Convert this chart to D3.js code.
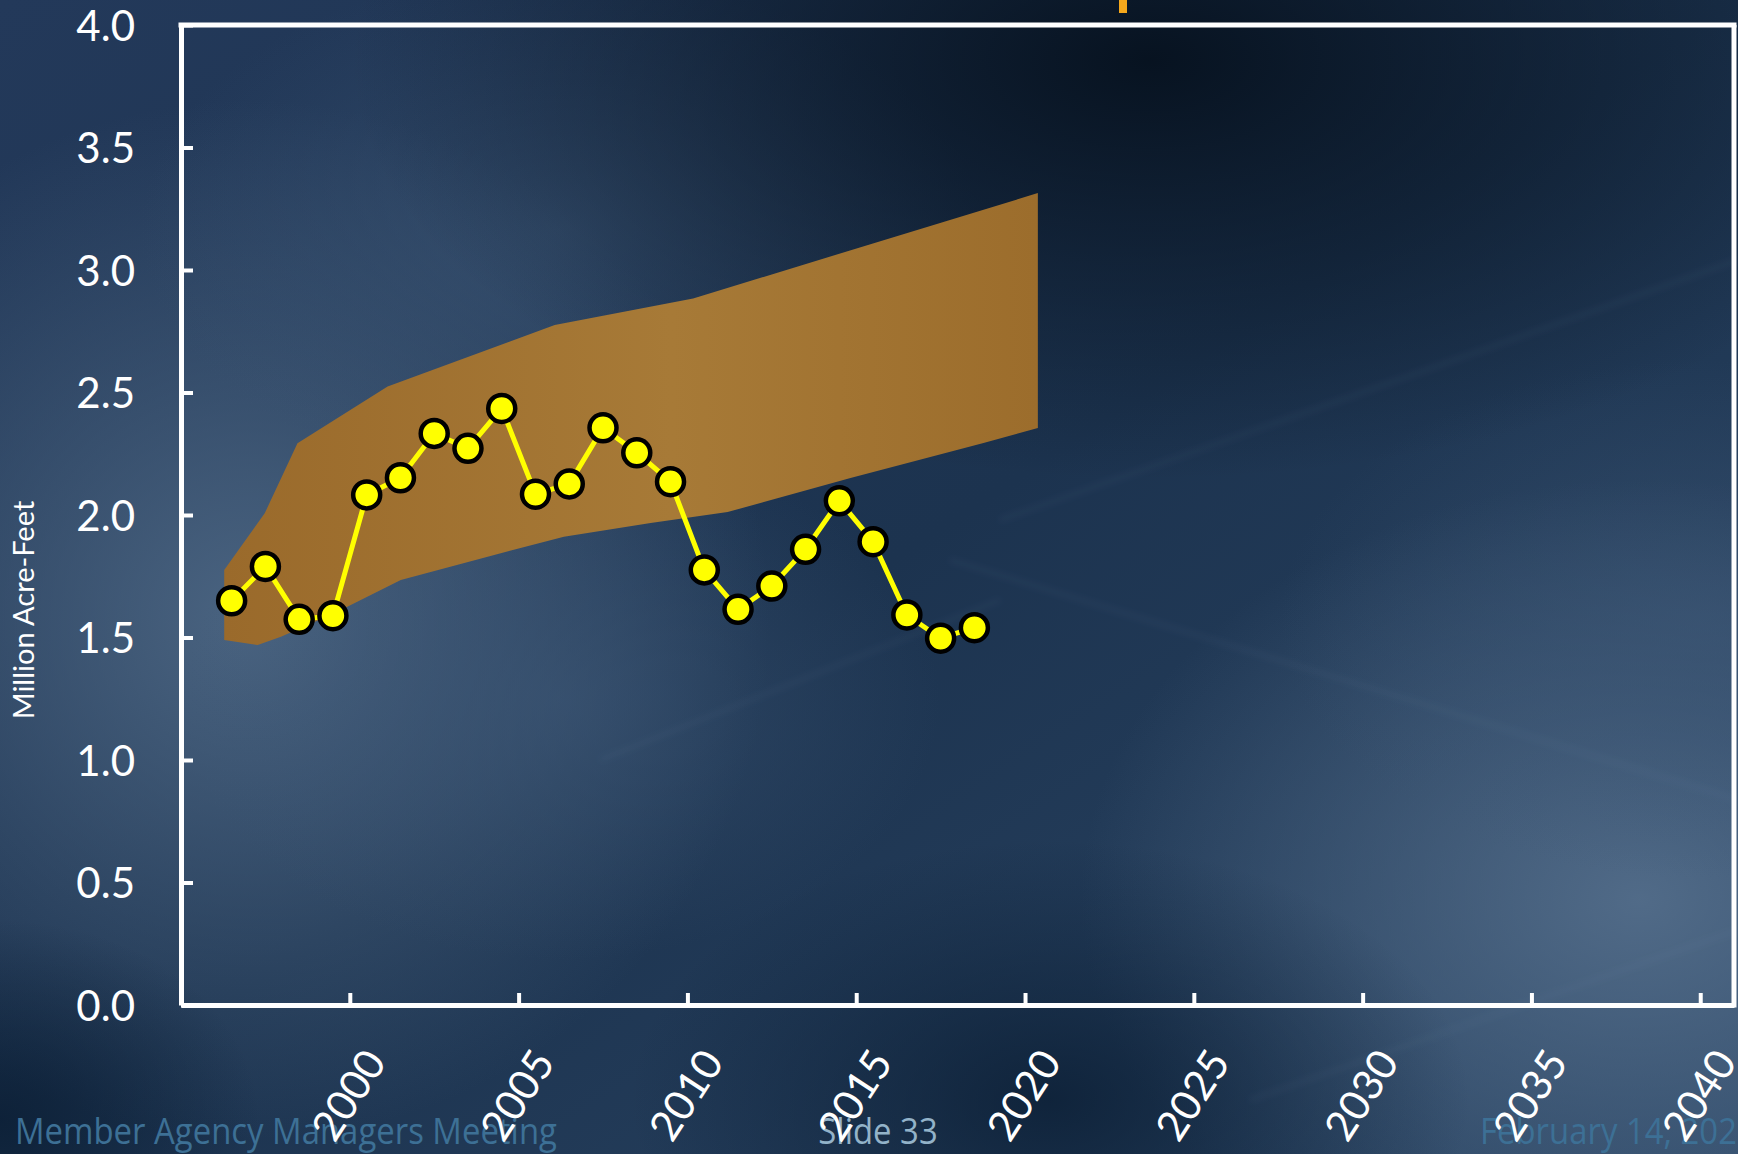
<!DOCTYPE html>
<html>
<head>
<meta charset="utf-8">
<script src="https://cdn.jsdelivr.net/npm/d3@7/dist/d3.min.js"></script>
<style>
  html, body { margin: 0; padding: 0; background: #1d3550; overflow: hidden; }
  svg { display: block; }
</style>
</head>
<body>
<svg id="chart" width="1738" height="1154"></svg>
<script>
// ---------------- data ----------------
const years = [1996,1997,1998,1999,2000,2001,2002,2003,2004,2005,2006,2007,2008,2009,2010,2011,2012,2013,2014,2015,2016,2017,2018];
const supply = [1.65,1.79,1.574,1.589,2.082,2.152,2.333,2.272,2.435,2.085,2.127,2.356,2.254,2.136,1.776,1.615,1.71,1.86,2.058,1.891,1.592,1.497,1.54];

const bandUpperYears = [1996.28,1997.48,1998.45,2001.12,2006.07,2010.17,2020.38];
const bandUpperVals  = [1.776, 2.007, 2.293, 2.524, 2.776, 2.884, 3.314];
const bandLowerYears = [1996.28,1997.27,1997.96,1999.54,2001.51,2004.47,2006.34,2008.91,2011.19,2014.83,2018.77,2020.38];
const bandLowerVals  = [1.490, 1.469, 1.503, 1.599, 1.735, 1.844, 1.911, 1.967, 2.012, 2.151, 2.294, 2.355];

const yTicks = [0,0.5,1,1.5,2,2.5,3,3.5,4];
const xTicks = [2000,2005,2010,2015,2020,2025,2030,2035,2040];
const yTitle = "Million Acre-Feet";
const footerLeft = "Member Agency Managers Meeting";
const footerCenter = "Slide 33";
const footerRight = "February 14, 2020";

// ---------------- setup ----------------
const W = 1738, H = 1154;
const svg = d3.select("#chart");
const defs = svg.append("defs");
const FONT = "Lato, 'Open Sans', sans-serif";

// background
function radial(id, stops) {
  const g = defs.append("radialGradient").attr("id", id);
  stops.forEach(s => g.append("stop").attr("offset", s[0]).attr("stop-color", s[1]).attr("stop-opacity", s[2]));
}
const lin = defs.append("linearGradient").attr("id","bgLin").attr("x1",0).attr("y1",0).attr("x2",1).attr("y2",1);
lin.append("stop").attr("offset",0).attr("stop-color","#23395a");
lin.append("stop").attr("offset",0.5).attr("stop-color","#1c334f");
lin.append("stop").attr("offset",1).attr("stop-color","#2c4766");
radial("lightL", [[0,"#4f6986",0.9],[1,"#4f6986",0]]);
radial("lightR", [[0,"#58728f",0.85],[1,"#58728f",0]]);
radial("darkT", [[0,"#06111e",0.95],[1,"#06111e",0]]);
radial("darkB", [[0,"#0a1d33",0.8],[1,"#0a1d33",0]]);
radial("midC", [[0,"#3d5776",0.6],[1,"#3d5776",0]]);
const blur = defs.append("filter").attr("id","blur").attr("x","-50%").attr("y","-50%").attr("width","200%").attr("height","200%");
blur.append("feGaussianBlur").attr("stdDeviation", 3);

const bg = svg.append("g");
bg.append("rect").attr("width", W).attr("height", H).attr("fill", "url(#bgLin)");
bg.append("ellipse").attr("cx", 250).attr("cy", 620).attr("rx", 520).attr("ry", 520).attr("fill","url(#lightL)");
bg.append("ellipse").attr("cx", 560).attr("cy", 230).attr("rx", 420).attr("ry", 260).attr("fill","url(#midC)");
bg.append("ellipse").attr("cx", 560).attr("cy", 700).attr("rx", 380).attr("ry", 260).attr("fill","url(#midC)");
bg.append("ellipse").attr("cx", 1640).attr("cy", 900).attr("rx", 560).attr("ry", 420).attr("fill","url(#lightR)");
bg.append("ellipse").attr("cx", 1700).attr("cy", 620).attr("rx", 420).attr("ry", 260).attr("fill","url(#midC)");
bg.append("ellipse").attr("cx", 1150).attr("cy", 60).attr("rx", 800).attr("ry", 420).attr("fill","url(#darkT)");
bg.append("ellipse").attr("cx", 1050).attr("cy", 1100).attr("rx", 420).attr("ry", 260).attr("fill","url(#darkB)");
bg.append("ellipse").attr("cx", 0).attr("cy", 1120).attr("rx", 260).attr("ry", 200).attr("fill","url(#darkB)");
// faint streaks
const streaks = [[950,560,1738,800],[1000,520,1738,260],[600,760,1000,600],[1250,1100,1738,930]];
bg.selectAll("line.streak").data(streaks).join("line")
  .attr("x1", d=>d[0]).attr("y1", d=>d[1]).attr("x2", d=>d[2]).attr("y2", d=>d[3])
  .attr("stroke","#8fa9c4").attr("stroke-opacity",0.07).attr("stroke-width",4).attr("filter","url(#blur)");

// footer (drawn beneath chart)
const foot = svg.append("g").attr("font-family", "'Open Sans', Lato, sans-serif").attr("font-size", 37);
const fl = foot.append("text").attr("x", 0).attr("y", 0).attr("fill", "#3d7095").text(footerLeft);
const flLen = fl.node().getComputedTextLength();
const fsx = 542 / flLen;
fl.attr("transform", `translate(15,1144) scale(${fsx},1)`);
foot.append("text").attr("x", 0).attr("y", 0).attr("fill", "#93b3c9").attr("text-anchor","middle")
  .attr("transform", `translate(878,1144) scale(${fsx},1)`).text(footerCenter);
foot.append("text").attr("x", 0).attr("y", 0).attr("fill", "#3d7095")
  .attr("transform", `translate(1480,1144) scale(${fsx},1)`).text(footerRight);

// orange marker at top
svg.append("rect").attr("x", 1119).attr("y", 0).attr("width", 8).attr("height", 13).attr("fill", "#f5a81c");

// ---------------- scales ----------------
const x = d3.scaleLinear().domain([1995, 2041]).range([181, 1734]);
const y = d3.scaleLinear().domain([0, 4]).range([1005, 25]);

// band
const bandPts = bandUpperYears.map((yr,i)=>[yr, bandUpperVals[i]])
  .concat(bandLowerYears.map((yr,i)=>[yr, bandLowerVals[i]]).reverse());
const bandGrad = defs.append("linearGradient").attr("id","bandG").attr("x1",0).attr("y1",0).attr("x2",1).attr("y2",0);
bandGrad.append("stop").attr("offset",0).attr("stop-color","#9a6a2b");
bandGrad.append("stop").attr("offset",0.55).attr("stop-color","#a77a37");
bandGrad.append("stop").attr("offset",1).attr("stop-color","#9c6d2c");
svg.append("path")
  .attr("d", d3.line().x(d=>x(d[0])).y(d=>y(d[1]))(bandPts) + "Z")
  .attr("fill", "url(#bandG)");

// axes
const yAxis = d3.axisLeft(y).tickValues(yTicks).tickFormat(d3.format(".1f")).tickSizeInner(-12).tickSizeOuter(0).tickPadding(46);
const gy = svg.append("g").attr("transform", `translate(${x.range()[0]},0)`).call(yAxis);
const xAxis = d3.axisBottom(x).tickValues(xTicks).tickFormat(d3.format("d")).tickSizeInner(-12).tickSizeOuter(0);
const gx = svg.append("g").attr("transform", `translate(0,${y.range()[0]})`).call(xAxis);

[gy, gx].forEach(g => {
  g.select(".domain").attr("stroke", "#fff").attr("stroke-width", 5);
  g.selectAll(".tick line").attr("stroke", "#fff").attr("stroke-width", 4);
});
gy.selectAll(".tick text").attr("fill","#fff").attr("font-family", FONT).attr("font-size", 42).attr("dy","0.36em");
gx.selectAll(".tick text").attr("fill","#fff").attr("font-family", FONT).attr("font-size", 42)
  .attr("y", null).attr("dy", "0.36em").attr("text-anchor","middle")
  .attr("transform", "translate(-2,90) rotate(-57)");

// frame top & right
svg.append("line").attr("x1", x.range()[0]-2.5).attr("x2", x.range()[1]+2.5).attr("y1", y.range()[1]).attr("y2", y.range()[1])
  .attr("stroke","#fff").attr("stroke-width",5);
svg.append("line").attr("x1", x.range()[1]).attr("x2", x.range()[1]).attr("y1", y.range()[1]).attr("y2", y.range()[0]+2.5)
  .attr("stroke","#fff").attr("stroke-width",5);

// y title
svg.append("text").attr("transform","translate(34,610) rotate(-90)").attr("text-anchor","middle")
  .attr("font-family", FONT).attr("font-size", 29).attr("fill","#fff").text(yTitle);

// series
const pts = years.map((yr,i)=>({x: yr + 0.5, v: supply[i]}));
svg.append("path").attr("d", d3.line().x(d=>x(d.x)).y(d=>y(d.v))(pts))
  .attr("fill","none").attr("stroke","#ffff00").attr("stroke-width",5).attr("stroke-linejoin","round");
svg.selectAll("circle.pt").data(pts).join("circle").attr("class","pt")
  .attr("cx", d=>x(d.x)).attr("cy", d=>y(d.v)).attr("r", 13.5)
  .attr("fill","#ffff00").attr("stroke","#000").attr("stroke-width",4.5);
</script>
</body>
</html>
